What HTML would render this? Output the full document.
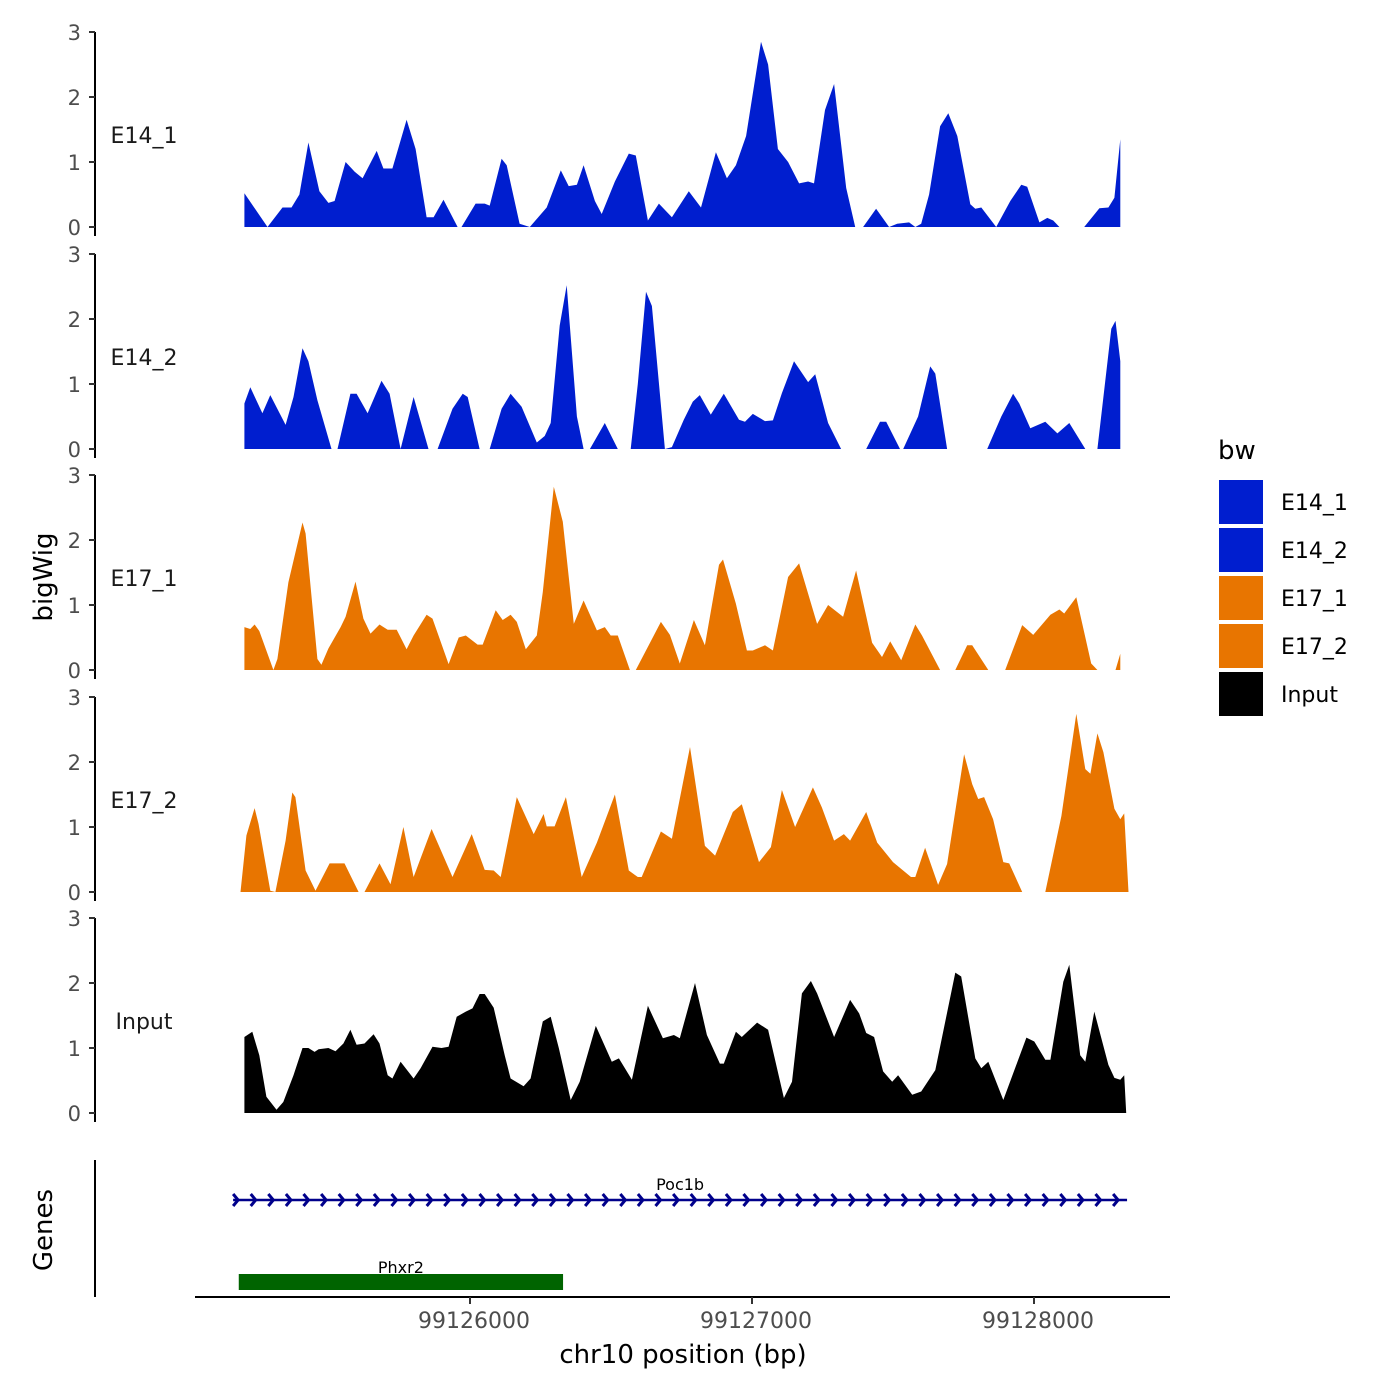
<!DOCTYPE html>
<html><head><meta charset="utf-8">
<style>
html,body{margin:0;padding:0;background:#fff;}
svg{display:block;font-family:"DejaVu Sans","Liberation Sans",sans-serif;}
</style></head>
<body>
<svg id="chart" width="1400" height="1400" viewBox="0 0 1400 1400" xmlns="http://www.w3.org/2000/svg">
<g id="tracks"></g>
<g id="axes"></g>
<text x="52" y="577" font-size="26" text-anchor="middle" transform="rotate(-90 52 577)" fill="#000">bigWig</text>
<text x="52" y="1230" font-size="26" text-anchor="middle" transform="rotate(-90 52 1230)" fill="#000">Genes</text>
<line x1="95" y1="1160" x2="95" y2="1297" stroke="#000" stroke-width="2"/>
<g id="genes"></g>
<line x1="195" y1="1297" x2="1170" y2="1297" stroke="#000" stroke-width="2"/>
<g id="xticks"></g>
<text x="683" y="1363" font-size="26" text-anchor="middle" fill="#000">chr10 position (bp)</text>
<g>
<text x="1218" y="459" font-size="26" fill="#000">bw</text>
<rect x="1219" y="480" width="44" height="44" fill="#001ECF"/>
<text x="1281" y="510" font-size="22">E14_1</text>
<rect x="1219" y="528" width="44" height="44" fill="#001ECF"/>
<text x="1281" y="558" font-size="22">E14_2</text>
<rect x="1219" y="576" width="44" height="44" fill="#E87500"/>
<text x="1281" y="606" font-size="22">E17_1</text>
<rect x="1219" y="624" width="44" height="44" fill="#E87500"/>
<text x="1281" y="654" font-size="22">E17_2</text>
<rect x="1219" y="672" width="44" height="44" fill="#000"/>
<text x="1281" y="702" font-size="22">Input</text>
</g>
</svg>
<script>
const regionStart = 99125200;
const xTickValues = [99126000, 99127000, 99128000];
const xTickLabels = ["99126000", "99127000", "99128000"];
const yTickValues = [0, 1, 2, 3];
const yTickLabels = ["0", "1", "2", "3"];
const trackNames = ["E14_1", "E14_2", "E17_1", "E17_2", "Input"];

const e14_1Pos = [0,82,135,167,195,227,266,298,320,359,391,419,469,493,525,575,607,646,671,706,756,770,820,852,870,912,930,976,1012,1072,1122,1150,1179,1203,1243,1267,1314,1363,1388,1431,1470,1516,1576,1619,1672,1711,1743,1779,1832,1857,1892,1928,1967,1999,2020,2059,2091,2134,2166,2194,2240,2286,2315,2357,2379,2400,2428,2467,2496,2528,2574,2592,2613,2666,2716,2755,2776,2819,2847,2868,2890,2978,3032,3064,3085,3106];
const e14_1Val = [0.52,0,0.3,0.3,0.5,1.3,0.55,0.37,0.4,1.0,0.85,0.75,1.17,0.9,0.9,1.65,1.2,0.15,0.15,0.42,0,0,0.36,0.36,0.33,1.05,0.95,0.05,0,0.3,0.87,0.63,0.65,0.95,0.4,0.2,0.7,1.13,1.1,0.1,0.36,0.15,0.55,0.3,1.15,0.75,0.95,1.4,2.85,2.5,1.2,1.0,0.67,0.7,0.67,1.8,2.2,0.6,0,0,0.28,0,0.05,0.07,0,0.05,0.5,1.55,1.75,1.4,0.35,0.28,0.3,0,0.4,0.65,0.62,0.07,0.14,0.1,0,0,0.29,0.3,0.45,1.35];

const e14_2Pos = [0,21,64,92,146,174,206,227,259,309,330,376,398,437,486,515,554,600,653,685,738,774,792,834,870,912,944,983,1037,1065,1086,1118,1143,1179,1203,1225,1278,1324,1370,1395,1424,1445,1491,1516,1558,1590,1615,1654,1700,1754,1775,1803,1846,1874,1906,1949,1999,2024,2070,2116,2205,2254,2276,2325,2336,2389,2432,2450,2492,2634,2684,2726,2748,2787,2840,2883,2925,2982,3025,3074,3089,3106];
const e14_2Val = [0.7,0.95,0.55,0.83,0.37,0.8,1.55,1.35,0.75,0,0,0.85,0.85,0.55,1.05,0.85,0,0.8,0,0,0.62,0.85,0.8,0,0,0.62,0.85,0.65,0.1,0.2,0.4,1.9,2.52,0.5,0,0,0.4,0,0,1.0,2.42,2.2,0,0.03,0.45,0.73,0.83,0.53,0.85,0.45,0.42,0.54,0.43,0.44,0.86,1.35,1.03,1.15,0.4,0,0,0.42,0.42,0,0,0.5,1.27,1.16,0,0,0.5,0.85,0.7,0.32,0.42,0.24,0.4,0,0,1.85,1.97,1.35];

const e17_1Pos = [0,21,36,53,103,117,156,206,217,259,273,298,341,359,394,422,447,479,508,540,575,600,646,667,724,760,785,827,845,891,916,944,966,998,1037,1058,1097,1129,1168,1203,1250,1278,1299,1324,1367,1388,1477,1509,1544,1594,1633,1683,1697,1743,1782,1803,1846,1874,1928,1967,2031,2070,2123,2169,2226,2261,2290,2329,2379,2403,2467,2521,2563,2581,2638,2698,2758,2797,2858,2890,2907,2950,3003,3025,3089,3106];
const e17_1Val = [0.66,0.63,0.7,0.6,0,0.17,1.35,2.27,2.1,0.17,0.08,0.33,0.66,0.82,1.36,0.79,0.56,0.7,0.62,0.62,0.32,0.53,0.85,0.79,0.09,0.5,0.53,0.39,0.39,0.92,0.77,0.85,0.74,0.32,0.53,1.2,2.82,2.28,0.71,1.07,0.61,0.66,0.53,0.53,0,0,0.74,0.54,0.1,0.77,0.38,1.62,1.7,1.02,0.3,0.3,0.38,0.3,1.43,1.64,0.71,1.0,0.82,1.53,0.42,0.2,0.44,0.15,0.7,0.53,0,0,0.38,0.38,0,0,0.69,0.54,0.85,0.93,0.87,1.12,0.1,0,0,0.25];

const e17_2Pos = [-14,7,36,50,92,110,146,170,181,217,252,302,355,405,426,479,518,564,600,664,738,806,852,884,909,966,1026,1061,1072,1100,1140,1196,1250,1314,1363,1395,1409,1477,1516,1580,1633,1669,1732,1764,1825,1867,1906,1953,2016,2048,2091,2126,2148,2205,2244,2300,2364,2379,2414,2460,2492,2552,2581,2602,2623,2655,2691,2712,2758,2840,2897,2950,2982,3000,3025,3046,3085,3106,3120,3135];
const e17_2Val = [0,0.87,1.29,1.05,0.02,0,0.79,1.53,1.46,0.33,0.02,0.44,0.44,0,0,0.44,0.12,1.0,0.23,0.97,0.23,0.89,0.34,0.33,0.23,1.46,0.89,1.2,1.01,1.01,1.46,0.23,0.76,1.5,0.33,0.23,0.23,0.93,0.82,2.23,0.71,0.56,1.23,1.35,0.46,0.69,1.57,1.0,1.61,1.3,0.79,0.89,0.79,1.23,0.76,0.46,0.23,0.23,0.68,0.11,0.43,2.12,1.66,1.43,1.46,1.12,0.46,0.44,0,0,1.17,2.74,1.89,1.82,2.44,2.15,1.28,1.12,1.21,0];

const inputPos = [0,28,53,78,114,138,174,206,227,249,263,298,323,351,376,398,426,458,479,508,525,554,600,625,667,699,724,753,785,809,834,852,884,923,944,990,1015,1058,1086,1115,1157,1189,1246,1303,1328,1374,1431,1484,1523,1544,1598,1640,1686,1700,1743,1764,1818,1857,1913,1942,1977,2009,2031,2091,2148,2180,2205,2233,2265,2297,2318,2368,2400,2450,2521,2542,2592,2613,2638,2691,2773,2801,2840,2858,2904,2925,2964,2982,3014,3064,3085,3106,3120,3127];
const inputVal = [1.17,1.25,0.89,0.25,0.05,0.17,0.58,1.0,1.0,0.94,0.98,1.0,0.95,1.07,1.28,1.05,1.07,1.21,1.07,0.58,0.53,0.79,0.53,0.69,1.02,1.0,1.02,1.48,1.56,1.61,1.83,1.83,1.62,0.89,0.53,0.41,0.53,1.41,1.48,1.0,0.2,0.48,1.34,0.79,0.84,0.51,1.65,1.15,1.2,1.15,2.0,1.2,0.76,0.76,1.25,1.17,1.39,1.28,0.23,0.48,1.84,2.03,1.84,1.17,1.74,1.53,1.23,1.17,0.64,0.48,0.58,0.28,0.33,0.66,2.16,2.1,0.84,0.69,0.79,0.2,1.16,1.1,0.82,0.82,2.02,2.28,0.89,0.79,1.56,0.74,0.54,0.51,0.58,0];

const geneNames = ["Poc1b", "Phxr2"];
const geneStarts = [99125160, 99125180];
const geneEnds = [99128330, 99126330];

const NS = "http://www.w3.org/2000/svg";
const pxPerBp = 0.282;
function xScale(bp){ return 470 + (bp - 99126000) * pxPerBp; }
const baselines = [227, 449, 670, 892, 1113];
const pxPerUnit = 65;
function yScale(v, i){ return baselines[i] - v * pxPerUnit; }
function mk(tag, attrs, parent){ const e = document.createElementNS(NS, tag); for (const k in attrs) e.setAttribute(k, attrs[k]); parent.appendChild(e); return e; }

const series = [
  {pos: e14_1Pos, val: e14_1Val, color: "#001ECF"},
  {pos: e14_2Pos, val: e14_2Val, color: "#001ECF"},
  {pos: e17_1Pos, val: e17_1Val, color: "#E87500"},
  {pos: e17_2Pos, val: e17_2Val, color: "#E87500"},
  {pos: inputPos, val: inputVal, color: "#000000"}
];
const tracks = document.getElementById("tracks");
const axes = document.getElementById("axes");
series.forEach((s, i) => {
  let d = "M" + xScale(regionStart + s.pos[0]).toFixed(1) + "," + baselines[i];
  for (let k = 0; k < s.pos.length; k++) d += " L" + xScale(regionStart + s.pos[k]).toFixed(1) + "," + yScale(s.val[k], i).toFixed(1);
  d += " L" + xScale(regionStart + s.pos[s.pos.length - 1]).toFixed(1) + "," + baselines[i] + " Z";
  const p = mk("path", {d: d, fill: s.color}, tracks);
  
  
  const al = mk("line", {x1: 95, x2: 95, y1: yScale(3, i), y2: baselines[i] + 9, stroke: "#000", "stroke-width": 2}, axes);
  
  
  yTickValues.forEach((tv, j) => {
    const y = yScale(tv, i);
    const t = mk("line", {x1: 89, x2: 95, y1: y, y2: y, stroke: "#333", "stroke-width": 2}, axes);
    
    
    const lb = mk("text", {x: 81, y: y + 8, "font-size": 21, "text-anchor": "end", fill: "#4d4d4d"}, axes);
    lb.textContent = yTickLabels[j];
    
    
  });
  const nm = mk("text", {x: 144, y: baselines[i] - 84, "font-size": 22, "text-anchor": "middle", fill: "#1a1a1a"}, axes);
  nm.textContent = trackNames[i];
  
  
});

const xt = document.getElementById("xticks");
xTickValues.forEach((v, j) => {
  const x = xScale(v);
  const t = mk("line", {x1: x, x2: x, y1: 1297, y2: 1304, stroke: "#333", "stroke-width": 2}, xt);
  
  
  const lb = mk("text", {x: x + 4, y: 1328, "font-size": 22, "text-anchor": "middle", fill: "#4d4d4d"}, xt);
  lb.textContent = xTickLabels[j];
  
  
});

const genes = document.getElementById("genes");
{
  const x1 = xScale(geneStarts[0]), x2 = xScale(geneEnds[0]);
  const ln = mk("line", {x1: x1, x2: x2, y1: 1200, y2: 1200, stroke: "#00008B", "stroke-width": 2.5}, genes);
  
  
  let d = "";
  for (let x = x1 + 5; x <= x2 + 1; x += 17.6) d += "M" + (x - 5) + ",1194 L" + x + ",1200 L" + (x - 5) + ",1206 ";
  const ar = mk("path", {d: d, stroke: "#00008B", "stroke-width": 3, fill: "none"}, genes);
  
  
  const lb = mk("text", {x: (x1 + x2) / 2, y: 1190, "font-size": 16, "text-anchor": "middle", fill: "#000"}, genes);
  lb.textContent = geneNames[0];
  
  
}
{
  const x1 = xScale(geneStarts[1]), x2 = xScale(geneEnds[1]);
  const r = mk("rect", {x: x1, y: 1274, width: x2 - x1, height: 16, fill: "#006400"}, genes);
  
  
  const lb = mk("text", {x: (x1 + x2) / 2, y: 1273, "font-size": 16, "text-anchor": "middle", fill: "#000"}, genes);
  lb.textContent = geneNames[1];
  
  
}
</script>
</body></html>
